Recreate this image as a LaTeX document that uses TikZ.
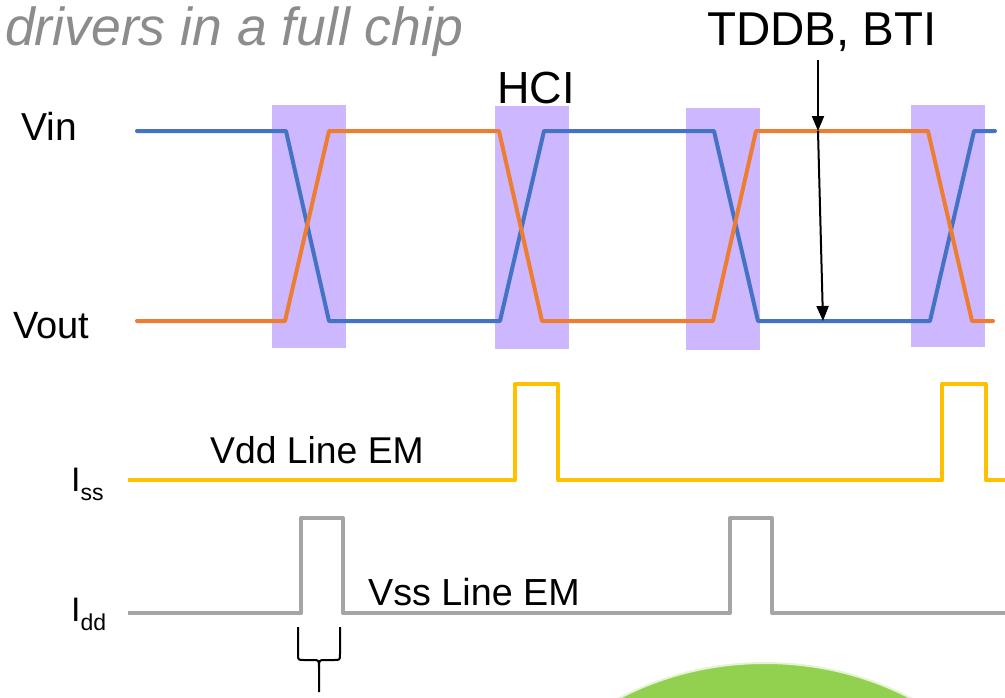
\documentclass[tikz,border=0pt]{standalone}
\usepackage{fontspec}
\setmainfont{Liberation Sans}
\usetikzlibrary{arrows.meta}
\definecolor{vblue}{HTML}{4472C4}
\definecolor{vorange}{HTML}{ED7D31}
\definecolor{vyellow}{HTML}{FFC000}
\definecolor{vgray}{HTML}{A5A5A5}
\definecolor{vpurple}{RGB}{205,183,254}
\definecolor{vgreen}{HTML}{92D050}
\definecolor{titlegray}{HTML}{8C8C8C}
\tikzset{
  wave/.style={line width=4pt, line join=round, line cap=round},
  window/.style={fill=vpurple, draw=none},
  lbl/.style={inner sep=0pt, anchor=base west},
  pointer/.style={line width=2pt, -{Triangle[length=15pt,width=12pt]}},
}
\newcommand{\fs}[1]{\fontsize{#1}{#1}\selectfont}
\begin{document}
\begin{tikzpicture}[x=1pt,y=-1pt]
\useasboundingbox (0,0) rectangle (1005,697);
\fill[white] (0,0) rectangle (1005,697);
% purple windows
\fill[window] (272,105) rectangle (346,348);
\fill[window] (495,106) rectangle (569,349);
\fill[window] (686,108) rectangle (760,350);
\fill[window] (911,105) rectangle (985,347);
% Vin (blue)
\draw[wave, vblue] (137,131) -- (286,131) -- (329,321) -- (500,321) -- (544,131) -- (714,131) -- (758,321) -- (930,321) -- (974,131) -- (995,131);
% Vout (orange)
\draw[wave, vorange] (137,321) -- (285,321) -- (329,131) -- (499,131) -- (542,321) -- (713,321) -- (756,131) -- (928,131) -- (972,321) -- (993,321);
% Iss (yellow)
\draw[wave, vyellow, line cap=butt] (128,480) -- (515,480) -- (515,384) -- (558,384) -- (558,480) -- (942,480) -- (942,384) -- (986,384) -- (986,480) -- (1005,480);
% Idd (gray)
\draw[wave, vgray, line cap=butt] (128,613) -- (301,613) -- (301,518) -- (343,518) -- (343,613) -- (730,613) -- (730,518) -- (772,518) -- (772,613) -- (1005,613);
% labels
\node[lbl, text=titlegray] (title) at (5,45) {\fs{53.5}\itshape drivers in a full chip};
\node[lbl] (tddb) at (707,45) {\fs{47.5}TDDB, BTI};
\node[lbl] (hci) at (497,103) {\fs{45}HCI};
\node[lbl] (vin) at (21,140) {\fs{39}Vin};
\node[lbl] (vout) at (13,338) {\fs{38}Vout};
\node[lbl] (vddem) at (210,463) {\fs{37.3}Vdd Line EM};
\node[lbl] (vssem) at (368,605) {\fs{37.7}Vss Line EM};
\node[lbl] (iss) at (71,491) {\fs{34}I\raisebox{-9pt}{\fs{23}ss}};
\node[lbl] (idd) at (71,621) {\fs{34}I\raisebox{-9pt}{\fs{23}dd}};
% TDDB arrows
\coordinate (start) at (818,60);
\coordinate (top) at (818,131);
\coordinate (bot) at (823,321);
\draw[pointer] (start) -- (top);
\draw[pointer] (top) -- (bot);
% brace
\coordinate (bl) at (298,627);
\coordinate (br) at (340,627);
\coordinate (bs) at (319,692);
\draw[line width=2pt, line join=round] (bl) -- (298,654) .. controls (298,660) .. (304,660) -- (313,660) .. controls (319,660) .. (319,668) -- (bs);
\draw[line width=2pt, line join=round] (br) -- (340,654) .. controls (340,660) .. (334,660) -- (325,660) .. controls (319,660) .. (319,668);
% green shape
\begin{scope}
\clip (0,0) rectangle (1005,697);
\fill[vgreen, draw=vgreen!25, line width=2pt] (765,923) ellipse [x radius=290, y radius=260];
\end{scope}
\end{tikzpicture}
\end{document}
